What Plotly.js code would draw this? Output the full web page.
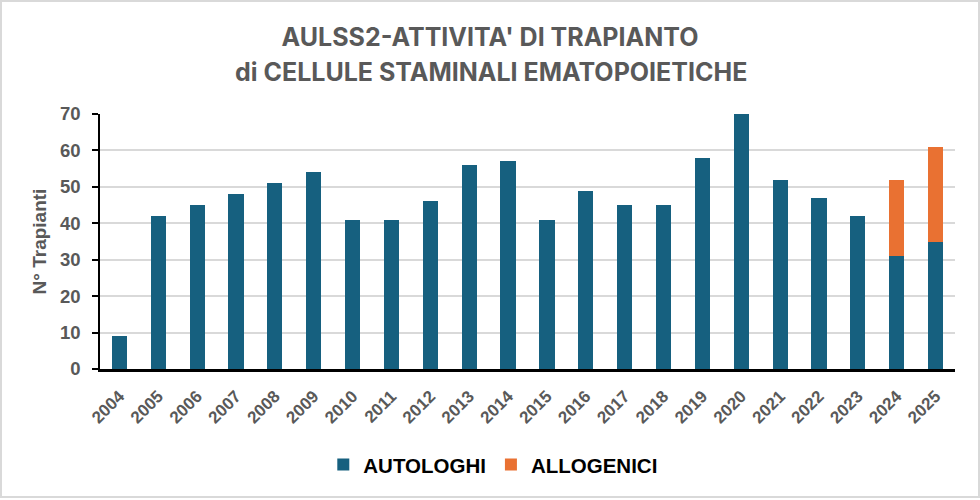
<!DOCTYPE html>
<html>
<head>
<meta charset="utf-8">
<script src="https://cdn.plot.ly/plotly-3.0.1.min.js"></script>
<style>
  body { margin: 0; background: #fff; }
  #chart { width: 976px; height: 494px; border: 2px solid #d9d9d9; }
</style>
</head>
<body>
<div id="chart"></div>
<script>
// Years and number of transplants per type
const anni = ["2004", "2005", "2006", "2007", "2008", "2009", "2010", "2011", "2012", "2013", "2014",
              "2015", "2016", "2017", "2018", "2019", "2020", "2021", "2022", "2023", "2024", "2025"];
const autologhi = [9, 42, 45, 48, 51, 54, 41, 41, 46, 56, 57, 41, 49, 45, 45, 58, 70, 52, 47, 42, 31, 35];
const allogenici = [null, null, null, null, null, null, null, null, null, null, null,
                    null, null, null, null, null, null, null, null, null, 21, 26];
const yTicks = [0, 10, 20, 30, 40, 50, 60, 70];

function buildChart() {
    const grigio = "#595959";
    const font = "'Liberation Sans', Arial, sans-serif";
    const fontTitolo = {family: "Inter, 'Open Sans', sans-serif", size: 25, color: grigio};

    let tracce = [
        {
            type: "bar",
            name: "AUTOLOGHI",
            x: anni,
            y: autologhi,
            marker: {color: "#16607f"},
            hoverinfo: "x+y+name"
        },
        {
            type: "bar",
            name: "ALLOGENICI",
            x: anni,
            y: allogenici,
            marker: {color: "#e97132"},
            hoverinfo: "x+y+name"
        }
    ];

    // Layout: title on two lines (second line as annotation for the spacing)
    let layout = {
        width: 976,
        height: 494,
        margin: {l: 98, r: 23, t: 112, b: 126},
        paper_bgcolor: "#fff",
        plot_bgcolor: "#fff",
        barmode: "stack",
        bargap: 0.61,
        title: {
            text: "<b>AULSS2-ATTIVITA' DI TRAPIANTO</b>",
            font: fontTitolo,
            x: 0.5,
            xanchor: "center",
            yref: "container",
            y: 0.929,
            yanchor: "middle"
        },
        annotations: [{
            text: "<b>di CELLULE STAMINALI EMATOPOIETICHE</b>",
            font: fontTitolo,
            xref: "paper",
            yref: "paper",
            x: 0.457,
            y: 1.164,
            xanchor: "center",
            yanchor: "middle",
            showarrow: false
        }],
        xaxis: {
            type: "category",
            tickangle: -45,
            tickfont: {family: font, size: 17, color: grigio, weight: "bold"},
            ticklabelstandoff: 8,
            showline: true,
            linecolor: "#000",
            linewidth: 2.5,
            ticks: "",
            showgrid: false,
            zeroline: false
        },
        yaxis: {
            range: [0, 70],
            tickvals: yTicks,
            ticktext: yTicks.map(String),
            tickfont: {family: font, size: 18.5, color: grigio, weight: "bold"},
            ticklabelstandoff: 8,
            showline: true,
            linecolor: "#000",
            linewidth: 1.5,
            ticks: "outside",
            ticklen: 6,
            tickwidth: 1.5,
            tickcolor: "#000",
            gridcolor: "#d9d9d9",
            gridwidth: 1.5,
            zeroline: false,
            title: {
                text: "<b>N° Trapianti</b>",
                font: {family: font, size: 19, color: grigio},
                standoff: 8
            }
        },
        legend: {
            orientation: "h",
            traceorder: "normal",
            x: 0.46,
            xanchor: "center",
            y: -0.37,
            yanchor: "middle",
            font: {family: font, size: 20.5, color: "#000", weight: "bold"},
            itemwidth: 30
        },
        showlegend: true
    };

    Plotly.newPlot("chart", tracce, layout, {displayModeBar: false});
}

buildChart();
</script>
</body>
</html>
